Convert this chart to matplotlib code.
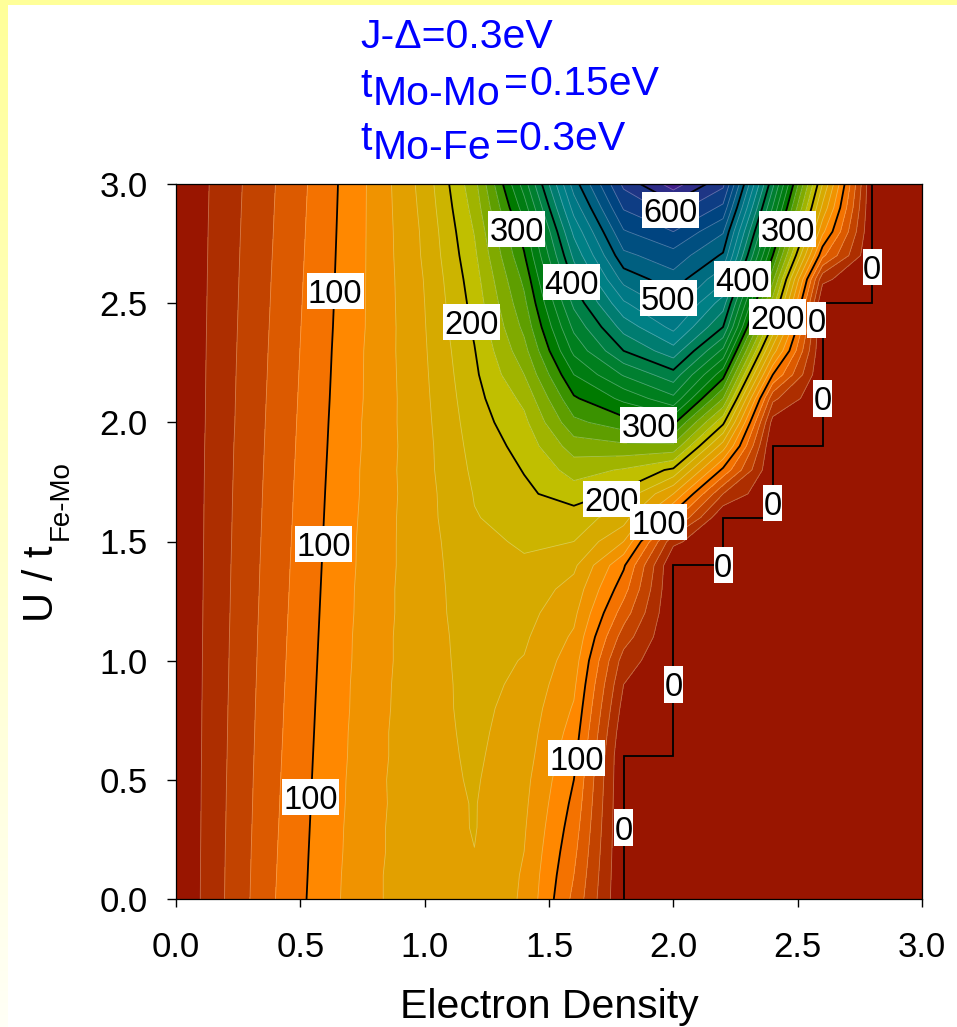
import numpy as np
import matplotlib
matplotlib.use("Agg")
import matplotlib.pyplot as plt
from matplotlib.colors import LinearSegmentedColormap
from matplotlib.patches import Rectangle

plt.rcParams['font.family'] = ['Liberation Sans', 'DejaVu Sans']

# griglia dei dati
density = [0.0, 0.2, 0.4, 0.6, 0.8, 1.0, 1.2, 1.4, 1.6, 1.8, 2.0, 2.2, 2.4, 2.6, 2.8, 3.0]
u_over_t = [i / 10 for i in range(31)]

# Tc, una colonna per ogni densita' (da U/t = 0 a 3)
tc_00 = [0] * 31
tc_02 = [41, 40.7, 40.4, 40, 39.7, 39.4, 39, 38.7, 38.4, 38, 37.7, 37.4, 37, 36.7, 36.4, 36, 35.7, 35.4, 35, 34.7, 34, 33.7, 33.4, 33, 32.6, 32.2, 31.8, 31.4, 31, 30.5, 30]
tc_04 = [80, 79.3, 78.7, 78, 77.3, 76.7, 76, 75.3, 74.7, 74, 73.3, 72.7, 72, 71.3, 70.7, 70, 69.3, 68.7, 68, 67.3, 66.7, 66, 65.3, 64.7, 64, 63.3, 62.7, 62, 61.3, 60.7, 60]
tc_06 = [112, 111.3, 110.6, 109.9, 109.2, 108.5, 107.8, 107.1, 106.4, 105.7, 105, 104.3, 103.6, 102.9, 102.2, 101.5, 100.8, 100.1, 99.4, 98.7, 98, 97.3, 96.6, 95.9, 95.2, 94.5, 93.8, 93.1, 92.4, 91.7, 91]
tc_08 = [138, 138, 137, 137, 136, 136, 135, 135, 134, 134, 133, 133, 132, 132, 131, 131, 130, 129, 129, 128, 128, 127, 127, 127, 126, 126, 126, 126, 126, 126, 126]
tc_10 = [150, 150, 151, 151, 152, 153, 153, 153, 153, 152, 152, 152, 152, 152, 152, 152, 153, 153, 154, 154, 155, 156, 157, 158, 159, 160, 161, 163, 164, 166, 168]
tc_12 = [158, 159, 159.8, 161, 161, 162, 163, 164, 165, 166, 167, 168, 170, 171, 173, 176, 179, 181, 184, 187, 190, 193, 196, 199, 203, 207, 211, 216, 221, 227, 233]
tc_14 = [137, 138, 140, 142, 144, 146, 149, 151, 153, 156, 159, 163, 167, 172, 178, 182, 187, 196, 201, 207, 215, 225, 240, 253, 265, 275, 285, 298, 310, 330, 350]
tc_16 = [75, 80, 85, 90, 95, 100, 106, 112, 118, 124, 130, 137, 145, 153, 164, 180, 190, 210, 228, 250, 275, 297, 320, 345, 365, 385, 405, 425, 445, 468, 490]
tc_18 = [0, 0, 0, 0, 0, 0, 0, 5, 12, 20, 31, 50, 70, 88, 103, 140, 170, 195, 218, 255, 292, 325, 362, 400, 428, 457, 487, 515, 538, 562, 585]
tc_20 = [0] * 15 + [25, 88, 140, 196, 255, 305, 355, 392, 432, 466, 492, 512, 532, 560, 590, 630]
tc_22 = [0] * 17 + [40, 95, 150, 205, 260, 308, 355, 400, 430, 465, 497, 522, 555, 585]
tc_24 = [0] * 20 + [12, 45, 100, 150, 195, 230, 265, 300, 330, 358, 385]
tc_26 = [0] * 26 + [25, 85, 125, 155, 180]
tc_28 = [0] * 31
tc_30 = [0] * 31

tc = np.column_stack([tc_00, tc_02, tc_04, tc_06, tc_08, tc_10, tc_12, tc_14,
                      tc_16, tc_18, tc_20, tc_22, tc_24, tc_26, tc_28, tc_30])

# livelli ogni 20, etichette solo ogni 100
band_colors = ['#991500', '#AD2E00', '#C24300', '#DC5A00', '#F47200', '#FF8800',
               '#F09300', '#E2A000', '#D6AA00', '#CCB400', '#C0BF00', '#A0B400',
               '#80AA00', '#5E9E00', '#3A9200', '#007A00', '#007C12', '#007F1E',
               '#007F30', '#007F45', '#007F58', '#007C70', '#008085', '#007885',
               '#006C80', '#005F80', '#004F80', '#004480', '#0E3D84', '#1E3585',
               '#2E2C88', '#401E8A', '#521888']
levels = [-1] + list(range(20, 680, 20))
major = [100, 200, 300, 400, 500, 600]
minor = [v for v in levels[1:] if v not in major]

# etichette delle curve: (testo, x, y) nell'ordine in cui si coprono
curve_labels = [('100', 0.64, 2.55), ('100', 0.595, 1.49), ('100', 0.54, 0.43),
                ('100', 1.61, 0.59), ('200', 1.19, 2.42), ('300', 1.37, 2.81),
                ('400', 1.59, 2.59), ('500', 1.98, 2.52), ('600', 1.99, 2.89),
                ('300', 1.90, 1.99), ('200', 1.75, 1.68), ('100', 1.94, 1.58),
                ('300', 2.46, 2.81), ('400', 2.28, 2.60), ('200', 2.42, 2.44),
                ('0', 2.575, 2.43), ('0', 2.80, 2.65), ('0', 2.60, 2.10),
                ('0', 2.40, 1.66), ('0', 2.20, 1.40), ('0', 2.00, 0.90),
                ('0', 1.80, 0.30)]

fig = plt.figure(figsize=(9.57, 10.27), dpi=100, facecolor='white')

# bordo giallo della diapositiva, sul lato sinistro sfuma verso il basso
edge = fig.add_axes([0, 0, 7.5 / 957, 1])
edge_cmap = LinearSegmentedColormap.from_list('edge', ['#FFFF99', '#FFFFF6'])
edge.imshow(np.linspace(0, 1, 256).reshape(-1, 1), cmap=edge_cmap, aspect='auto')
edge.axis('off')
fig.add_artist(Rectangle((0, 1 - 4.5 / 1027), 1, 4.5 / 1027, transform=fig.transFigure, color='#FFFF99', lw=0))

ax = fig.add_axes([176 / 957, 128 / 1027, 746 / 957, 715 / 1027])

ax.contourf(density, u_over_t, tc, levels=levels, colors=band_colors)
ax.contour(density, u_over_t, tc, levels=minor, colors='white', alpha=0.3, linewidths=0.6)
ax.contour(density, u_over_t, tc, levels=major, colors='black', linewidths=1.3)

# la curva dello 0 e' una scala: per ogni colonna arriva all'ultima riga nulla
stair_x, stair_y = [], []
prev_top = 0.0
for j in range(9, 15):
    zero_rows = np.where(tc[:, j] == 0)[0]
    top = u_over_t[zero_rows[-1]]
    stair_x += [density[j], density[j]]
    stair_y += [prev_top, top]
    prev_top = top
ax.plot(stair_x, stair_y, color='black', lw=1.3, solid_joinstyle='miter')

box_w, box_h = 19 / 248.67, 36 / 238.33
z = 5
for text, x, y in curve_labels:
    w = box_w * len(text)
    ax.add_patch(Rectangle((x - w / 2, y - box_h / 2), w, box_h, color='white', lw=0, zorder=z))
    ax.text(x, y, text, fontsize=23.5, ha='center', va='center_baseline', color='black', zorder=z + 0.5)
    z += 1

ax.set_xlim(0, 3)
ax.set_ylim(0, 3)
ax.set_xticks([0, 0.5, 1, 1.5, 2, 2.5, 3])
ax.set_yticks([0, 0.5, 1, 1.5, 2, 2.5, 3])
ax.set_xticklabels(['0.0', '0.5', '1.0', '1.5', '2.0', '2.5', '3.0'])
ax.set_yticklabels(['0.0', '0.5', '1.0', '1.5', '2.0', '2.5', '3.0'])
ax.tick_params(axis='x', length=6, width=1, labelsize=25, pad=17)
ax.tick_params(axis='y', length=6.5, width=1, labelsize=25, pad=14)
for spine in ax.spines.values():
    spine.set_linewidth(0.9)

fig.text(549 / 957, 1 - 1018 / 1027, 'Electron Density', fontsize=29.5, ha='center', va='baseline')

# etichetta y con pedice, scritta a pezzi come nell'originale
fig.text(53 / 957, 1 - 622 / 1027, 'U / t', fontsize=30, rotation=90, rotation_mode='anchor', ha='left', va='baseline')
fig.text(68 / 957, 1 - 540 / 1027, 'Fe-Mo', fontsize=20, rotation=90, rotation_mode='anchor', ha='left', va='baseline')

# parametri in blu
blue = '#0000FF'
title_bits = [('J-\u0394=0.3eV', 360, 48, 29.5), ('t', 360, 97, 29.5), ('Mo-Mo', 373, 105, 29.5),
              ('=', 504, 95, 29.5), ('0.15eV', 529, 95, 29.5), ('t', 360, 150, 29.5),
              ('Mo-Fe', 373, 159, 29.5), ('=', 495, 150, 29.5), ('0.3eV', 518, 150, 29.5)]
for text, px, py, size in title_bits:
    fig.text(px / 957, 1 - py / 1027, text, fontsize=size, color=blue, ha='left', va='baseline')

fig.savefig('out.png', dpi=100, facecolor='white')
